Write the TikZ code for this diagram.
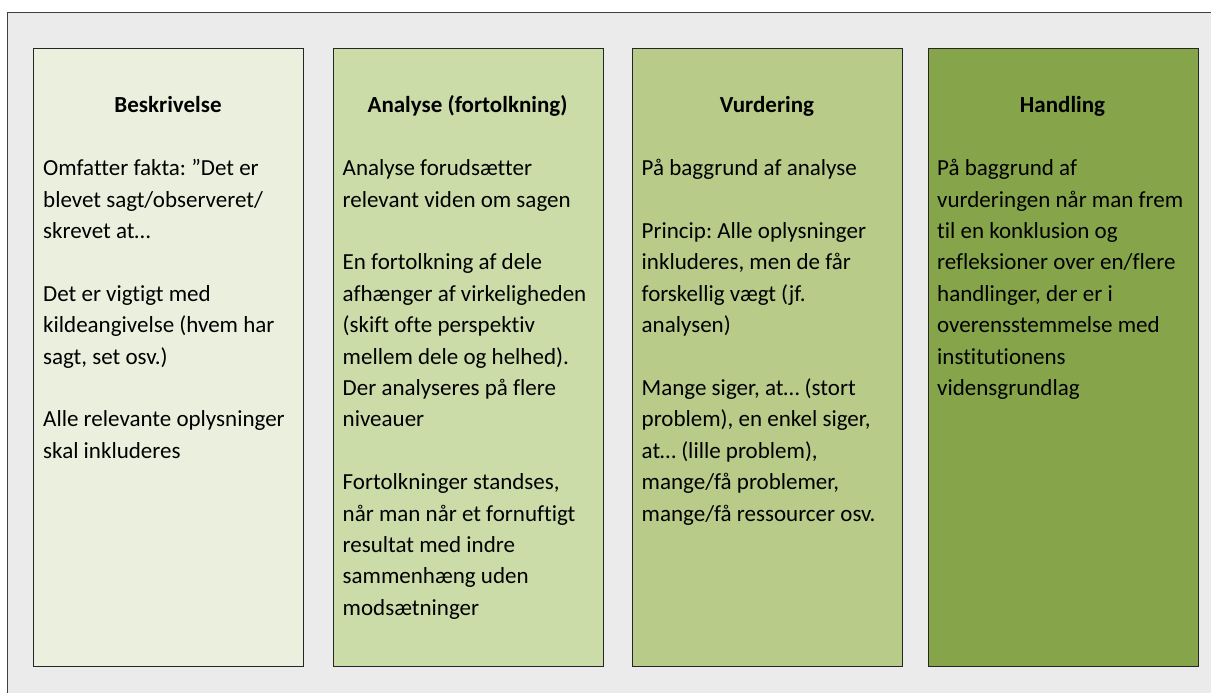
\documentclass[tikz,border=0pt]{standalone}
\usepackage{fontspec}
\setmainfont{Carlito}[Ligatures={NoCommon}]
\frenchspacing
\definecolor{bgc}{HTML}{EBEBEB}
\definecolor{frm}{HTML}{404040}
\definecolor{cA}{HTML}{EBF0DE}
\definecolor{cB}{HTML}{CCDCA9}
\definecolor{cC}{HTML}{B8CB89}
\definecolor{cD}{HTML}{86A449}
\tikzset{
  colbox/.style={draw=black!85, line width=0.9pt, rectangle, inner sep=0pt,
    minimum width=270pt, minimum height=618pt, anchor=north west},
  coltitle/.style={font=\fontsize{23}{31.4}\selectfont\bfseries, inner sep=0pt, anchor=base},
  colbody/.style={font=\fontsize{23}{31.4}\selectfont, inner sep=0pt, align=left, anchor=north west},
}
\newcommand{\firstline}{\rule{0pt}{22pt}}
\begin{document}
\begin{tikzpicture}[x=1pt,y=1pt]
\useasboundingbox (0,0) rectangle (1211,-693);
\fill[white] (0,0) rectangle (1211,-693);
\draw[fill=bgc, draw=frm, line width=1pt] (7.3,-12.7) rectangle (1230,-710);

\node[colbox, fill=cA] (b1) at (33,-48) {};
\node[colbox, fill=cB] (b2) at (332.5,-48) {};
\node[colbox, fill=cC] (b3) at (632,-48) {};
\node[colbox, fill=cD] (b4) at (927.5,-48) {};

\node[coltitle] (t1) at (168,-113) {Beskrivelse};
\node[coltitle] (t2) at (467.5,-113) {Analyse (fortolkning)};
\node[coltitle] (t3) at (767,-113) {Vurdering};
\node[coltitle] (t4) at (1062.5,-113) {Handling};

\node[colbody] (d1) at (43,-153.5) {\firstline Omfatter fakta: ”Det er\\
blevet sagt/observeret/\\
skrevet at…\\[\baselineskip]
Det er vigtigt med\\
kildeangivelse (hvem har\\
sagt, set osv.)\\[\baselineskip]
Alle relevante oplysninger\\
skal inkluderes};

\node[colbody] (d2) at (342.5,-153.5) {\firstline Analyse forudsætter\\
relevant viden om sagen\\[\baselineskip]
En fortolkning af dele\\
afhænger af virkeligheden\\
(skift ofte perspektiv\\
mellem dele og helhed).\\
Der analyseres på flere\\
niveauer\\[\baselineskip]
Fortolkninger standses,\\
når man når et fornuftigt\\
resultat med indre\\
sammenhæng uden\\
modsætninger};

\node[colbody] (d3) at (641.5,-153.5) {\firstline På baggrund af analyse\\[\baselineskip]
Princip: Alle oplysninger\\
inkluderes, men de får\\
forskellig vægt (jf.\\
analysen)\\[\baselineskip]
Mange siger, at… (stort\\
problem), en enkel siger,\\
at… (lille problem),\\
mange/få problemer,\\
mange/få ressourcer osv.};

\node[colbody] (d4) at (937,-153.5) {\firstline På baggrund af\\
vurderingen når man frem\\
til en konklusion og\\
refleksioner over en/flere\\
handlinger, der er i\\
overensstemmelse med\\
institutionens\\
vidensgrundlag};
\end{tikzpicture}
\end{document}
